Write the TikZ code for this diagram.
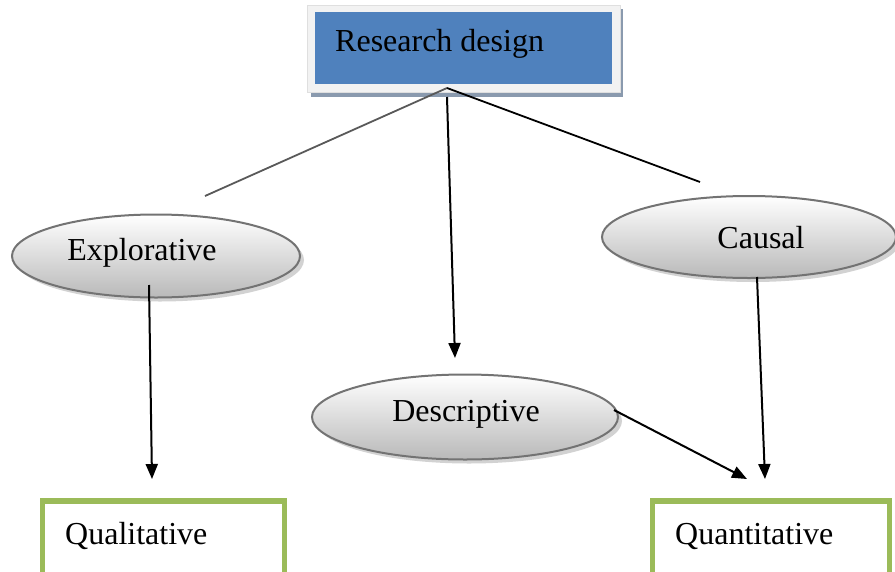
\documentclass[tikz,border=0pt]{standalone}
\usepackage{fontspec}
\setmainfont{Liberation Serif}
\usetikzlibrary{shapes.geometric,arrows.meta,shadows}
\definecolor{rdblue}{HTML}{4F81BD}
\definecolor{rdframe}{HTML}{F2F2F2}
\definecolor{rdshadow}{HTML}{8A9AAE}
\definecolor{okgreen}{HTML}{9BBB59}
\tikzset{
  lbl/.style={font=\fontsize{32}{37}\selectfont, inner sep=0pt, text=black},
  oval/.style={ellipse, draw=gray!90!black, line width=2pt, top color=white, bottom color=gray!55,
     drop shadow={shadow xshift=4pt, shadow yshift=-4pt, fill=gray!35, opacity=1}},
  outbox/.style={draw=okgreen, line width=5.5pt, fill=white},
  arr/.style={line width=2pt, -{Triangle[length=15pt,width=12pt]}},
  thin/.style={line width=1.8pt}
}
\begin{document}
\begin{tikzpicture}[x=1pt,y=-1pt]
\useasboundingbox (0,0) rectangle (895,571);
\clip (0,0) rectangle (895,571);
% research design
\fill[rdshadow] (311,9) rectangle (623,97);
\node (rdframe) [draw=gray!25, line width=0.8pt, fill=rdframe, minimum width=313pt, minimum height=87pt, inner sep=0pt] at (463.5,48.5) {};
\node (rd) [fill=rdblue, minimum width=297pt, minimum height=72pt, inner sep=0pt] at (463.5,48) {};
\node[lbl, anchor=west] at (335,44) {Research design};
\coordinate (apex) at (447,88);
\coordinate (lt) at (205,196);
\coordinate (rt) at (700,182);
\coordinate (vs) at (447,97);
\coordinate (vt) at (455,358);
% ellipses
\node (expl) [oval, minimum width=288pt, minimum height=83pt] at (156,256) {};
\node[lbl] at (142,253) {Explorative};
\node (caus) [oval, minimum width=294pt, minimum height=82pt] at (749,237) {};
\node[lbl] at (761,238) {Causal};
\node (desc) [oval, minimum width=306pt, minimum height=85pt] at (465,417) {};
\node[lbl] at (466,414) {Descriptive};
% outputs
\node (qual) [outbox, minimum width=242pt, minimum height=90pt, inner sep=0pt] at (163.5,546) {};
\node[lbl, anchor=west] at (65,536) {Qualitative};
\node (quan) [outbox, minimum width=237pt, minimum height=90pt, inner sep=0pt] at (771,546) {};
\node[lbl, anchor=west] at (675,536) {Quantitative};
% connectors
\draw[thin, draw=gray!70!black] (apex) -- (lt);
\draw[thin] (apex) -- (rt);
\draw[arr] (vs) -- (vt);
\coordinate (es) at (149,285);
\coordinate (et) at (152,479);
\draw[arr] (es) -- (et);
\coordinate (ds) at (614,410);
\coordinate (dt) at (747,479);
\draw[arr] (ds) -- (dt);
\coordinate (cs) at (757,277);
\coordinate (ct) at (765,479);
\draw[arr] (cs) -- (ct);
\end{tikzpicture}
\end{document}
